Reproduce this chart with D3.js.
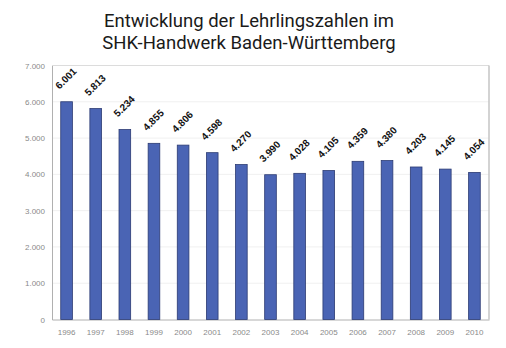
<!DOCTYPE html>
<html><head><meta charset="utf-8">
<script src="https://cdn.jsdelivr.net/npm/d3@7"></script>
<style>body{margin:0;background:#fff}svg{display:block}</style>
</head><body>
<svg id="c" width="506" height="348"></svg>
<script>
const years = ["1996","1997","1998","1999","2000","2001","2002","2003","2004","2005","2006","2007","2008","2009","2010"];
const values = [6001,5813,5234,4855,4806,4598,4270,3990,4028,4105,4359,4380,4203,4145,4054];
const yTicks = [0,1000,2000,3000,4000,5000,6000,7000];
const titleLines = ["Entwicklung der Lehrlingszahlen im","SHK-Handwerk Baden-Württemberg"];

const svg = d3.select("#c");
const m = {l:52, r:489, t:65.5, b:319.5};
const x = d3.scaleBand().domain(years).range([m.l, m.r]).paddingInner(0.6).paddingOuter(0.3);
const y = d3.scaleLinear().domain([0,7000]).range([m.b, m.t]);
const fmt = v => d3.format(",")(v).replace(/,/g,".");

svg.selectAll("text.title").data(titleLines).join("text")
  .attr("x",249).attr("y",(d,i)=>27+i*21.5)
  .attr("text-anchor","middle")
  .attr("font-family","Roboto, 'Open Sans', sans-serif")
  .attr("font-size",18.5).attr("fill","#1a1a1a")
  .text(d=>d);

// gridlines
svg.append("g").selectAll("line").data(yTicks.filter(d=>d>0 && d<7000)).join("line")
  .attr("x1",m.l).attr("x2",m.r).attr("y1",d=>y(d)).attr("y2",d=>y(d))
  .attr("stroke","#f0f0f0").attr("stroke-width",1);
// top & right border
svg.append("line").attr("x1",m.l).attr("x2",m.r).attr("y1",m.t).attr("y2",m.t).attr("stroke","#dcdcdc");
svg.append("line").attr("x1",m.r).attr("x2",m.r).attr("y1",m.t).attr("y2",m.b).attr("stroke","#c4c4c4").attr("stroke-width",1.5);

// y axis
const ya = svg.append("g").attr("transform",`translate(${m.l},0)`)
  .call(d3.axisLeft(y).tickValues(yTicks).tickFormat(fmt).tickSize(0).tickPadding(7));
ya.select(".domain").attr("stroke","#b0b0b0");
ya.selectAll("text").attr("font-family","Liberation Sans, Arial, sans-serif").attr("font-size",8).attr("fill","#8a8a8a");

// x axis
const xa = svg.append("g").attr("transform",`translate(0,${m.b})`)
  .call(d3.axisBottom(x).tickSize(0).tickPadding(10));
xa.select(".domain").attr("stroke","#b0b0b0");
xa.selectAll("text").attr("font-family","Liberation Sans, Arial, sans-serif").attr("font-size",8).attr("fill","#8a8a8a");

// bars
svg.append("g").selectAll("rect").data(values).join("rect")
  .attr("x",(d,i)=>x(years[i])).attr("width",x.bandwidth())
  .attr("y",d=>y(d)).attr("height",d=>m.b-y(d))
  .attr("fill","#4a64b4").attr("stroke","#2c3b73").attr("stroke-width",0.8);

// labels
svg.append("g").selectAll("text").data(values).join("text")
  .attr("transform",(d,i)=>`translate(${x(years[i])+x.bandwidth()/2-7},${y(d)-12}) rotate(-45)`)
  .attr("font-family","Liberation Sans, Arial, sans-serif").attr("font-weight","bold")
  .attr("font-size",10).attr("fill","#111")
  .text(d=>fmt(d));
</script>
</body></html>
